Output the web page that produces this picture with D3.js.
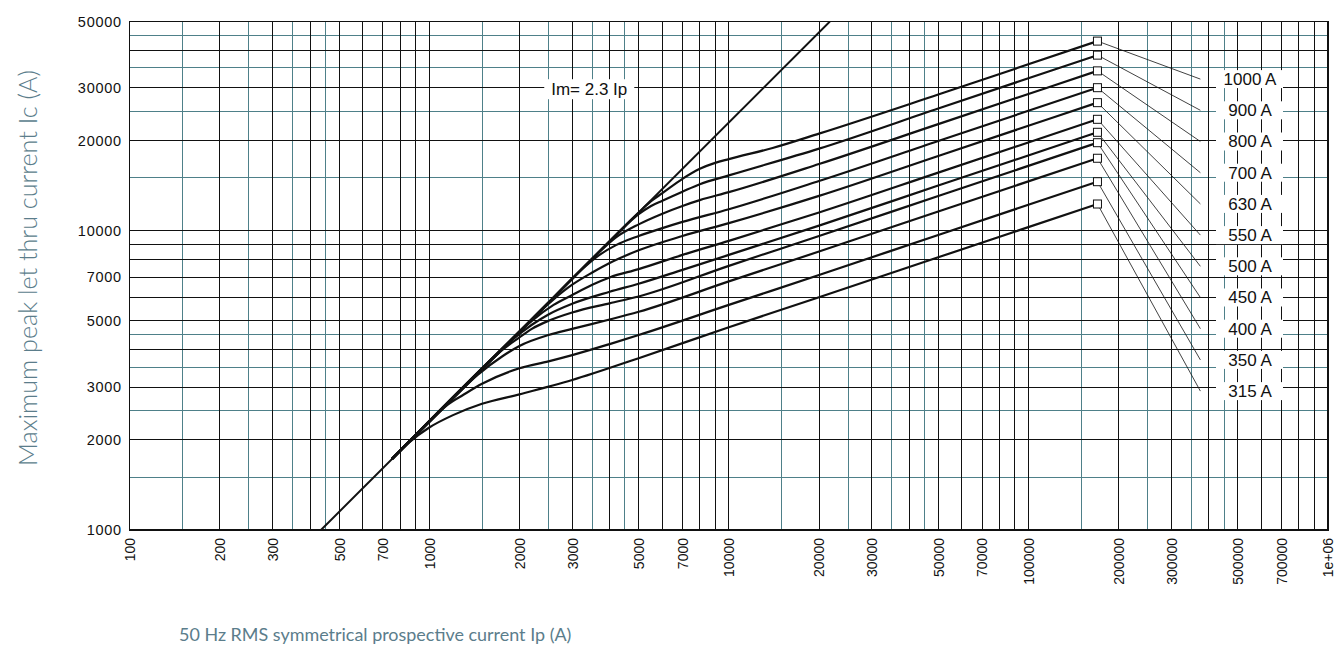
<!DOCTYPE html>
<html>
<head>
<meta charset="utf-8">
<script src="https://cdn.jsdelivr.net/npm/d3@7"></script>
<style>
  body { margin: 0; background: #fff; }
  svg { display: block; }
  .tick text { font-family: "Liberation Sans", Arial, sans-serif; fill: #111; }
</style>
</head>
<body>
<svg id="chart" width="1335" height="651"></svg>
<script>
// tick labels
const xTicks = [100, 200, 300, 500, 700, 1000, 2000, 3000, 5000, 7000, 10000, 20000, 30000,
                50000, 70000, 100000, 200000, 300000, 500000, 700000, 1000000];
const xTickLabels = ["100", "200", "300", "500", "700", "1000", "2000", "3000", "5000", "7000",
                     "10000", "20000", "30000", "50000", "70000", "100000", "200000", "300000",
                     "500000", "700000", "1e+06"];
const yTicks = [1000, 2000, 3000, 5000, 7000, 10000, 20000, 30000, 50000];

// Im = 2.3 Ip line (Ip, Ic)
const imLine = [[435, 1000], [21740, 50000]];

// fuse ratings, top to bottom
const ratings = ["1000 A", "900 A", "800 A", "700 A", "630 A", "550 A", "500 A", "450 A", "400 A", "350 A", "315 A"];

// cut-off curves [Ip, Ic]
const c1000 = [[750, 1725], [3000, 6900], [5000, 11500], [5500, 12550], [6000, 13350], [7000, 14900], [8000, 16100],
               [9000, 16850], [10000, 17350], [14000, 18900], [20000, 21100], [50000, 28500], [170000, 43000]];
const c900 = [[750, 1725], [2500, 5750], [4200, 9660], [5000, 11350], [5500, 12100], [6000, 12600], [7000, 13500],
              [8000, 14300], [10000, 15300], [20000, 18800], [50000, 25600], [170000, 38600]];
const c800 = [[750, 1725], [2500, 5750], [3600, 8280], [4200, 9500], [5000, 10500], [6000, 11400], [7000, 12100],
              [8000, 12650], [10000, 13450], [20000, 16700], [50000, 22700], [170000, 34200]];
const c700 = [[750, 1725], [2500, 5750], [3200, 7360], [3700, 8300], [4200, 8950], [5000, 9600], [6000, 10200],
              [7000, 10700], [10000, 11800], [20000, 14660], [50000, 19940], [170000, 30050]];
const c630 = [[750, 1725], [2000, 4600], [2600, 5900], [3000, 6600], [3500, 7250], [4000, 7800], [5000, 8600],
              [7000, 9600], [10000, 10600], [20000, 13070], [50000, 17770], [170000, 26780]];
const c550 = [[750, 1725], [1800, 4140], [2200, 5000], [2600, 5650], [3000, 6100], [3500, 6600], [4000, 6980],
              [5000, 7440], [7000, 8300], [10000, 9250], [20000, 11500], [50000, 15630], [170000, 23560]];
const c500 = [[750, 1725], [1600, 3680], [1900, 4330], [2200, 4850], [2500, 5250], [3000, 5700], [4000, 6250],
              [5000, 6650], [7000, 7400], [10000, 8300], [20000, 10400], [50000, 14150], [170000, 21320]];
const c450 = [[750, 1725], [1500, 3450], [1750, 3990], [2000, 4400], [2200, 4700], [2500, 5000], [3000, 5330],
              [4000, 5720], [5000, 6030], [10000, 7630], [20000, 9600], [50000, 13060], [170000, 19680]];
const c400 = [[750, 1725], [1200, 2760], [1450, 3300], [1750, 3800], [2000, 4120], [2500, 4480], [3000, 4700],
              [4000, 5050], [5000, 5360], [10000, 6770], [20000, 8520], [50000, 11590], [170000, 17460]];
const c350 = [[750, 1725], [1000, 2300], [1150, 2620], [1300, 2830], [1500, 3080], [2000, 3470], [2500, 3660],
              [3000, 3840], [4000, 4180], [5000, 4480], [10000, 5650], [20000, 7110], [50000, 9680], [170000, 14580]];
const c315 = [[750, 1725], [850, 1950], [1000, 2200], [1200, 2420], [1500, 2640], [2000, 2840], [3000, 3170],
              [5000, 3750], [10000, 4760], [20000, 5990], [50000, 8150], [170000, 12280]];

const curves = [c1000, c900, c800, c700, c630, c550, c500, c450, c400, c350, c315];

const svg = d3.select("#chart");
const x = d3.scaleLog().domain([100, 1e6]).range([129.7, 1328]);
const y = d3.scaleLog().domain([1000, 50000]).range([530, 21.5]);
const W = x.range(), H = y.range();

svg.append("defs").append("clipPath").attr("id", "plot")
  .append("rect").attr("x", W[0]).attr("y", H[1]).attr("width", W[1] - W[0]).attr("height", H[0] - H[1]);

// grid: integer steps black, half steps (1.5..4.5) teal
const teal = "#4e8089";
const blackX = [], tealX = [], blackY = [], tealY = [];
[100, 1000, 10000, 100000].forEach(d => {
  for (let k = 1; k <= 9; k++) if (k * d > 100) blackX.push(k * d);
  [1.5, 2.5, 3.5, 4.5].forEach(k => tealX.push(k * d));
});
[1000, 10000].forEach(d => {
  for (let k = 1; k <= 9; k++) if (k * d > 1000 && k * d < 50000) blackY.push(k * d);
  [1.5, 2.5, 3.5, 4.5].forEach(k => tealY.push(k * d));
});

const grid = svg.append("g").attr("shape-rendering", "crispEdges");
grid.selectAll(".tx").data(tealX).enter().append("line")
  .attr("x1", d => x(d)).attr("x2", d => x(d)).attr("y1", H[0]).attr("y2", H[1])
  .attr("stroke", teal).attr("stroke-width", 1);
grid.selectAll(".ty").data(tealY).enter().append("line")
  .attr("y1", d => y(d)).attr("y2", d => y(d)).attr("x1", W[0]).attr("x2", W[1])
  .attr("stroke", teal).attr("stroke-width", 1);
grid.selectAll(".bx").data(blackX).enter().append("line")
  .attr("x1", d => x(d)).attr("x2", d => x(d)).attr("y1", H[0]).attr("y2", H[1])
  .attr("stroke", "#111").attr("stroke-width", 1);
grid.selectAll(".by").data(blackY).enter().append("line")
  .attr("y1", d => y(d)).attr("y2", d => y(d)).attr("x1", W[0]).attr("x2", W[1])
  .attr("stroke", "#111").attr("stroke-width", 1);
grid.append("rect").attr("x", W[0]).attr("y", H[1]).attr("width", W[1] - W[0]).attr("height", H[0] - H[1])
  .attr("fill", "none").attr("stroke", "#111").attr("stroke-width", 1.5);

// axes
const gx = svg.append("g").attr("transform", `translate(0,${H[0]})`)
  .call(d3.axisBottom(x).tickValues(xTicks).tickFormat((d, i) => xTickLabels[i]).tickSize(0));
gx.select(".domain").remove();
gx.selectAll("text").attr("transform", "rotate(-90)").attr("text-anchor", "end")
  .attr("x", -8).attr("y", 0).attr("dy", "0.35em").style("font-size", "14px");

const gy = svg.append("g").attr("transform", `translate(${W[0]},0)`)
  .call(d3.axisLeft(y).tickValues(yTicks).tickFormat(d3.format("d")).tickSize(0).tickPadding(8));
gy.select(".domain").remove();
gy.selectAll("text").style("font-size", "14.5px").style("letter-spacing", "0.7px");

// curves
const line = d3.line().x(d => x(d[0])).y(d => y(d[1])).curve(d3.curveMonotoneX);
const plot = svg.append("g").attr("clip-path", "url(#plot)");
plot.append("path").attr("d", line(imLine)).attr("fill", "none").attr("stroke", "#111").attr("stroke-width", 2);
plot.selectAll(".curve").data(curves).enter().append("path")
  .attr("d", line).attr("fill", "none").attr("stroke", "#111").attr("stroke-width", 2.2);

// leaders, end markers, labels
const labX = x(375000);
const labY = i => y(32100) + i * 31.2;
const ends = curves.map(c => c[c.length - 1]);

svg.selectAll(".leader").data(ends).enter().append("line")
  .attr("x1", d => x(d[0])).attr("y1", d => y(d[1]))
  .attr("x2", labX).attr("y2", (d, i) => labY(i))
  .attr("stroke", "#111").attr("stroke-width", 0.8);
svg.selectAll(".mark").data(ends).enter().append("rect")
  .attr("x", d => x(d[0]) - 4).attr("y", d => y(d[1]) - 4).attr("width", 8).attr("height", 8)
  .attr("fill", "#fff").attr("stroke", "#111").attr("stroke-width", 1);

const labs = svg.selectAll(".lab").data(ratings).enter().append("g");
labs.append("rect").attr("x", 1216).attr("y", (d, i) => labY(i) - 9).attr("width", 67).attr("height", 18)
  .attr("fill", "#fff");
labs.append("text").attr("x", 1250).attr("y", (d, i) => labY(i)).attr("dy", "0.35em")
  .attr("text-anchor", "middle").style("font-family", "Liberation Sans, Arial, sans-serif")
  .style("font-size", "17px").attr("fill", "#111").text(d => d);

// Im label
const imG = svg.append("g").attr("transform", `translate(${x(3420)},${y(29700)})`);
imG.append("rect").attr("x", -45).attr("y", -10).attr("width", 90).attr("height", 20).attr("fill", "#fff");
imG.append("text").attr("text-anchor", "middle").attr("dy", "0.35em")
  .style("font-family", "Liberation Sans, Arial, sans-serif").style("font-size", "17px")
  .attr("fill", "#111").text("Im= 2.3 Ip");

// axis titles, sized to the width they take in the picture
function fitTitle(t, len) {
  const w = t.node().getComputedTextLength();
  t.style("font-size", (20 * len / w).toFixed(2) + "px");
}
const xt = svg.append("text").attr("x", 179).attr("y", 641)
  .style("font-family", "Lato, 'Open Sans', sans-serif").style("font-weight", 400)
  .style("font-size", "20px").attr("fill", "#5b7d8b")
  .text("50 Hz RMS symmetrical prospective current Ip (A)");
fitTitle(xt, 393);
const yt = svg.append("text").attr("transform", "translate(37,268) rotate(-90)").attr("text-anchor", "middle")
  .style("font-family", "Lato, 'Open Sans', sans-serif").style("font-weight", 300)
  .style("font-size", "20px").attr("fill", "#5b7d8b")
  .text("Maximum peak let thru current Ic (A)");
fitTitle(yt, 396);
</script>
</body>
</html>
